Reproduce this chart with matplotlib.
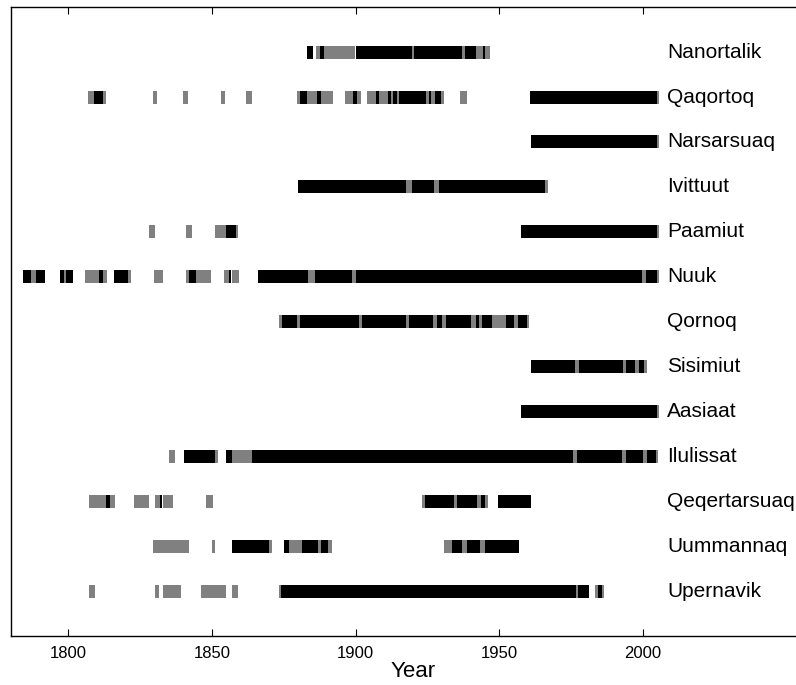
import matplotlib
matplotlib.use("Agg")
import matplotlib.pyplot as plt

plt.rcParams['font.family'] = ['Liberation Sans', 'DejaVu Sans']

# estacoes de cima para baixo
estacoes = ['Nanortalik', 'Qaqortoq', 'Narsarsuaq', 'Ivittuut', 'Paamiut', 'Nuuk',
            'Qornoq', 'Sisimiut', 'Aasiaat', 'Ilulissat', 'Qeqertarsuaq',
            'Uummannaq', 'Upernavik']

# anos com dados completos (preto) e parciais (cinza), como (inicio, fim)
completo = {
    'Nanortalik': [(1883.2, 1885.2), (1887.5, 1889), (1900, 1919.6), (1920.4, 1937),
                   (1938, 1942), (1944.3, 1945)],
    'Qaqortoq': [(1808.8, 1812), (1880.7, 1883.2), (1886.7, 1888), (1899, 1900.4),
                 (1907, 1908.2), (1911.3, 1912.3), (1913.2, 1914.3), (1915.1, 1924.4),
                 (1925.5, 1926.2), (1927.6, 1929.7), (1960.8, 2005)],
    'Narsarsuaq': [(1961, 2005)],
    'Ivittuut': [(1880, 1917.7), (1919.8, 1927.2), (1929, 1966)],
    'Paamiut': [(1855, 1858.2), (1957.7, 2005)],
    'Nuuk': [(1784.3, 1787), (1788.8, 1792), (1797.2, 1798.6), (1799.2, 1801.5),
             (1810.7, 1811.9), (1816, 1820.6), (1842, 1844.4), (1856, 1856.6),
             (1865.9, 1883.6), (1885.8, 1898.9), (1900, 1999.6), (2001, 2005)],
    'Qornoq': [(1874.5, 1879.5), (1880.7, 1901.2), (1902.4, 1917.5), (1918.6, 1927.1),
               (1928.3, 1930.2), (1931.4, 1940.1), (1941.8, 1943), (1944.2, 1947.6),
               (1952.3, 1955.2), (1956.6, 1959.6)],
    'Sisimiut': [(1961, 1976.4), (1977.8, 1993), (1994.3, 1997.5), (1998.6, 2000.6)],
    'Aasiaat': [(1957.7, 2005)],
    'Ilulissat': [(1840.2, 1851), (1855, 1857), (1864, 1975.7), (1977.2, 1992.8),
                  (1994.3, 2000), (2001.6, 2004.8)],
    'Qeqertarsuaq': [(1813, 1814.5), (1831.9, 1832.5), (1924.2, 1934.3), (1935.4, 1942.3),
                     (1943.8, 1945.2), (1949.7, 1961)],
    'Uummannaq': [(1856.9, 1869.9), (1875, 1877), (1881.5, 1887), (1888, 1890.4),
                  (1933.7, 1937), (1938.9, 1943.5), (1945, 1956.8)],
    'Upernavik': [(1873.9, 1976.7), (1977.5, 1981.4), (1984.3, 1985.8)],
}

parcial = {
    'Nanortalik': [(1886.3, 1887.5), (1889, 1899.8), (1919.6, 1920.4), (1937, 1938),
                   (1942, 1944.3), (1945, 1946.8)],
    'Qaqortoq': [(1806.8, 1808.8), (1812, 1813), (1829.3, 1831), (1839.9, 1841.6),
                 (1853, 1854.6), (1862, 1863.8), (1879.5, 1880.7), (1883.2, 1886.7),
                 (1888, 1892), (1896.2, 1899), (1900.4, 1901.8), (1904.1, 1907),
                 (1908.2, 1911.3), (1912.3, 1913.2), (1914.3, 1915.1), (1924.4, 1925.5),
                 (1926.2, 1927.6), (1929.7, 1930.8), (1936.4, 1938.9), (2005, 2005.6)],
    'Narsarsuaq': [(2005, 2005.8)],
    'Ivittuut': [(1917.7, 1919.8), (1927.2, 1929), (1966, 1966.9)],
    'Paamiut': [(1828, 1830.2), (1841, 1843.2), (1851, 1855), (1858.2, 1859), (2005, 2005.6)],
    'Nuuk': [(1787, 1788.8), (1798.6, 1799.2), (1805.8, 1810.7), (1811.9, 1813.6),
             (1820.6, 1821.8), (1829.9, 1832.8), (1840.9, 1842), (1844.4, 1849.6),
             (1854.2, 1856), (1857.1, 1859.5), (1883.6, 1885.8), (1898.9, 1900),
             (1999.6, 2001), (2005, 2005.6)],
    'Qornoq': [(1873.4, 1874.5), (1879.5, 1880.7), (1901.2, 1902.4), (1917.5, 1918.6),
               (1927.1, 1928.3), (1930.2, 1931.4), (1940.1, 1941.8), (1943, 1944.2),
               (1947.6, 1952.3), (1955.2, 1956.6), (1959.6, 1960.5)],
    'Sisimiut': [(1976.4, 1977.8), (1993, 1994.3), (1997.5, 1998.6), (2000.6, 2001.5)],
    'Aasiaat': [(2005, 2005.6)],
    'Ilulissat': [(1835.1, 1837), (1851, 1852), (1857, 1864), (1975.7, 1977.2),
                  (1992.8, 1994.3), (2000, 2001.6), (2004.8, 2005.5)],
    'Qeqertarsuaq': [(1807, 1813), (1814.5, 1816.2), (1823, 1828.1), (1830, 1831.9),
                     (1832.9, 1836.3), (1848, 1850.2), (1923.2, 1924.2), (1934.3, 1935.4),
                     (1942.3, 1943.8), (1945.2, 1946.3)],
    'Uummannaq': [(1829.3, 1842), (1850, 1851), (1869.9, 1871), (1877, 1881.5),
                  (1887, 1888), (1890.4, 1891.9), (1930.8, 1933.7), (1937, 1938.9),
                  (1943.5, 1945)],
    'Upernavik': [(1807.1, 1809.1), (1830, 1831.7), (1832.9, 1839.1), (1846.1, 1854.9),
                  (1857, 1859), (1873.2, 1873.9), (1976.7, 1977.5), (1983.5, 1984.3),
                  (1985.8, 1986.5)],
}

anos_ticks = [1800, 1850, 1900, 1950, 2000]

fig = plt.figure(figsize=(7.96, 6.85), dpi=100)
ax = fig.add_axes([0.0138, 0.0715, 1.01, 0.918])

altura = 0.29
n = len(estacoes)
for i, nome in enumerate(estacoes):
    y = n - i
    ax.broken_barh([(a, b - a) for a, b in parcial[nome]], (y - altura / 2, altura),
                   facecolors='#808080', edgecolor='none')
    ax.broken_barh([(a, b - a) for a, b in completo[nome]], (y - altura / 2, altura),
                   facecolors='black', edgecolor='none')
    ax.text(2008.5, y, nome, fontsize=15, ha='left', va='center')

ax.set_xlim(1780, 2060)
ax.set_ylim(0, n + 1)
ax.set_xticks(anos_ticks)
ax.set_yticks([])
ax.tick_params(axis='x', direction='in', length=5, width=0.8, top=True,
               labelsize=12, pad=7)
for s in ax.spines.values():
    s.set_linewidth(1.0)
ax.spines['right'].set_visible(False)
ax.set_xlabel('Year', fontsize=16, labelpad=0)

fig.savefig('out.png', dpi=100)
